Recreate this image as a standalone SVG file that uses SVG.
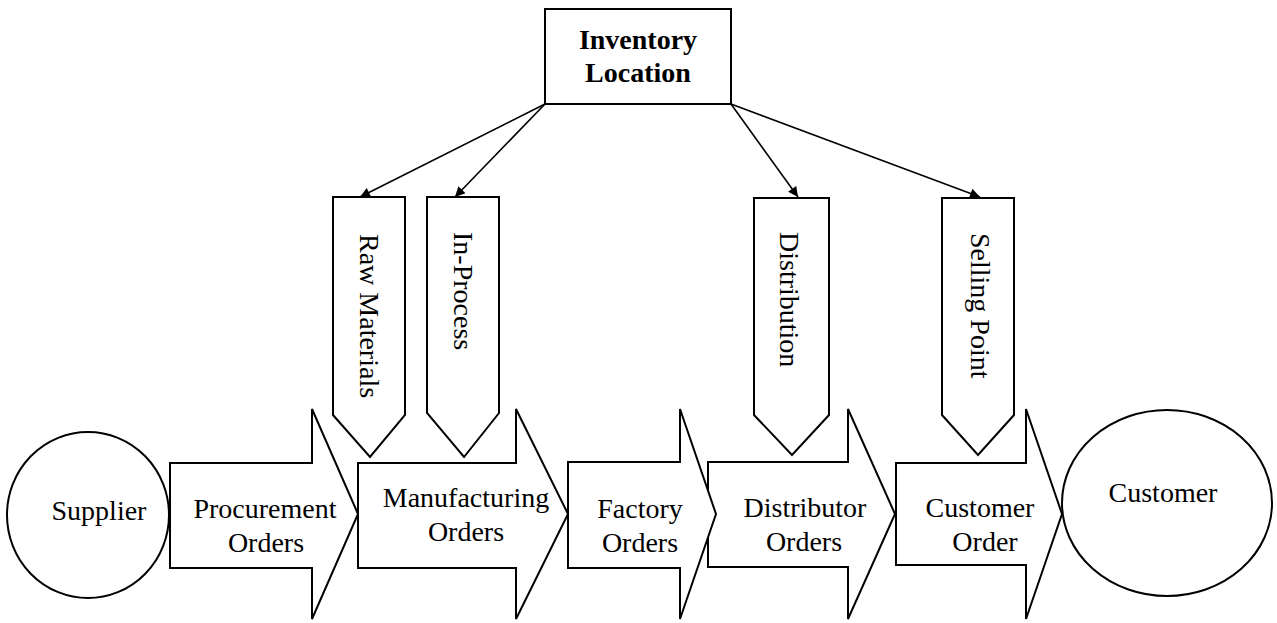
<svg xmlns="http://www.w3.org/2000/svg" width="1277" height="623" viewBox="0 0 1277 623">
<style>
.shape{fill:#fff;stroke:#000;stroke-width:2;stroke-linejoin:miter}
.lbl{font-family:"Liberation Serif","Times New Roman",serif;font-size:28px;fill:#000;text-anchor:middle}
.vlbl{font-family:"Liberation Serif","Times New Roman",serif;font-size:28px;fill:#000;text-anchor:start}
.bold{font-weight:bold}
.conn{stroke:#000;stroke-width:1.6;fill:none}
</style>
<defs>
<marker id="ah" viewBox="0 0 10 10" refX="10" refY="5" markerWidth="13" markerHeight="10" markerUnits="userSpaceOnUse" orient="auto">
<path d="M0,0 L10,5 L0,10 Z" fill="#000"/>
</marker>
</defs>
<rect width="1277" height="623" fill="#fff"/>

<g id="inventory-location">
<rect class="shape" x="545" y="9" width="186" height="95"/>
<text class="lbl bold" x="638" y="49">Inventory</text>
<text class="lbl bold" x="638" y="82">Location</text>
</g>

<g id="connectors">
<line class="conn" x1="545" y1="104" x2="360" y2="197" marker-end="url(#ah)"/>
<line class="conn" x1="545" y1="104" x2="455" y2="197" marker-end="url(#ah)"/>
<line class="conn" x1="731" y1="104" x2="798" y2="197" marker-end="url(#ah)"/>
<line class="conn" x1="731" y1="104" x2="980" y2="197" marker-end="url(#ah)"/>
</g>

<g id="raw-materials">
<path class="shape" d="M333,197 H405 V415 L370,457 L333,415 Z"/>
<text class="vlbl" transform="translate(360,234) rotate(90)">Raw Materials</text>
</g>
<g id="in-process">
<path class="shape" d="M427,197 H499 V413 L464,457 L427,413 Z"/>
<text class="vlbl" transform="translate(454,232) rotate(90)">In-Process</text>
</g>
<g id="distribution">
<path class="shape" d="M754,198 H829 V415 L792,455 L754,415 Z"/>
<text class="vlbl" transform="translate(780,232) rotate(90)">Distribution</text>
</g>
<g id="selling-point">
<path class="shape" d="M942,198 H1014 V415 L978,455 L942,415 Z"/>
<text class="vlbl" transform="translate(971,233) rotate(90)">Selling Point</text>
</g>

<g id="supplier">
<ellipse class="shape" cx="88" cy="515" rx="81" ry="83"/>
<text class="lbl" x="99" y="520">Supplier</text>
</g>

<g id="procurement-orders">
<path class="shape" d="M170,463 H312 V409 L358,514 L312,619 V568 H170 Z"/>
<text class="lbl" x="265" y="518">Procurement</text>
<text class="lbl" x="266" y="552">Orders</text>
</g>

<g id="manufacturing-orders">
<path class="shape" d="M358,463 H516 V409 L568,514 L516,619 V568 H358 Z"/>
<text class="lbl" x="466" y="507">Manufacturing</text>
<text class="lbl" x="466" y="541">Orders</text>
</g>

<g id="distributor-orders">
<path class="shape" d="M708,462 H848 V409 L895,514 L848,619 V567 H708 Z"/>
<text class="lbl" x="805" y="517">Distributor</text>
<text class="lbl" x="804" y="551">Orders</text>
</g>

<g id="factory-orders">
<path class="shape" d="M568,462 H680 V409 L716,514 L680,619 V568 H568 Z"/>
<text class="lbl" x="640" y="518">Factory</text>
<text class="lbl" x="640" y="552">Orders</text>
</g>

<g id="customer-order">
<path class="shape" d="M896,463 H1026 V409 L1062,514 L1026,619 V565 H896 Z"/>
<text class="lbl" x="980" y="517">Customer</text>
<text class="lbl" x="985" y="551">Order</text>
</g>

<g id="customer">
<ellipse class="shape" cx="1167" cy="503" rx="105" ry="93"/>
<text class="lbl" x="1163" y="502">Customer</text>
</g>
</svg>
